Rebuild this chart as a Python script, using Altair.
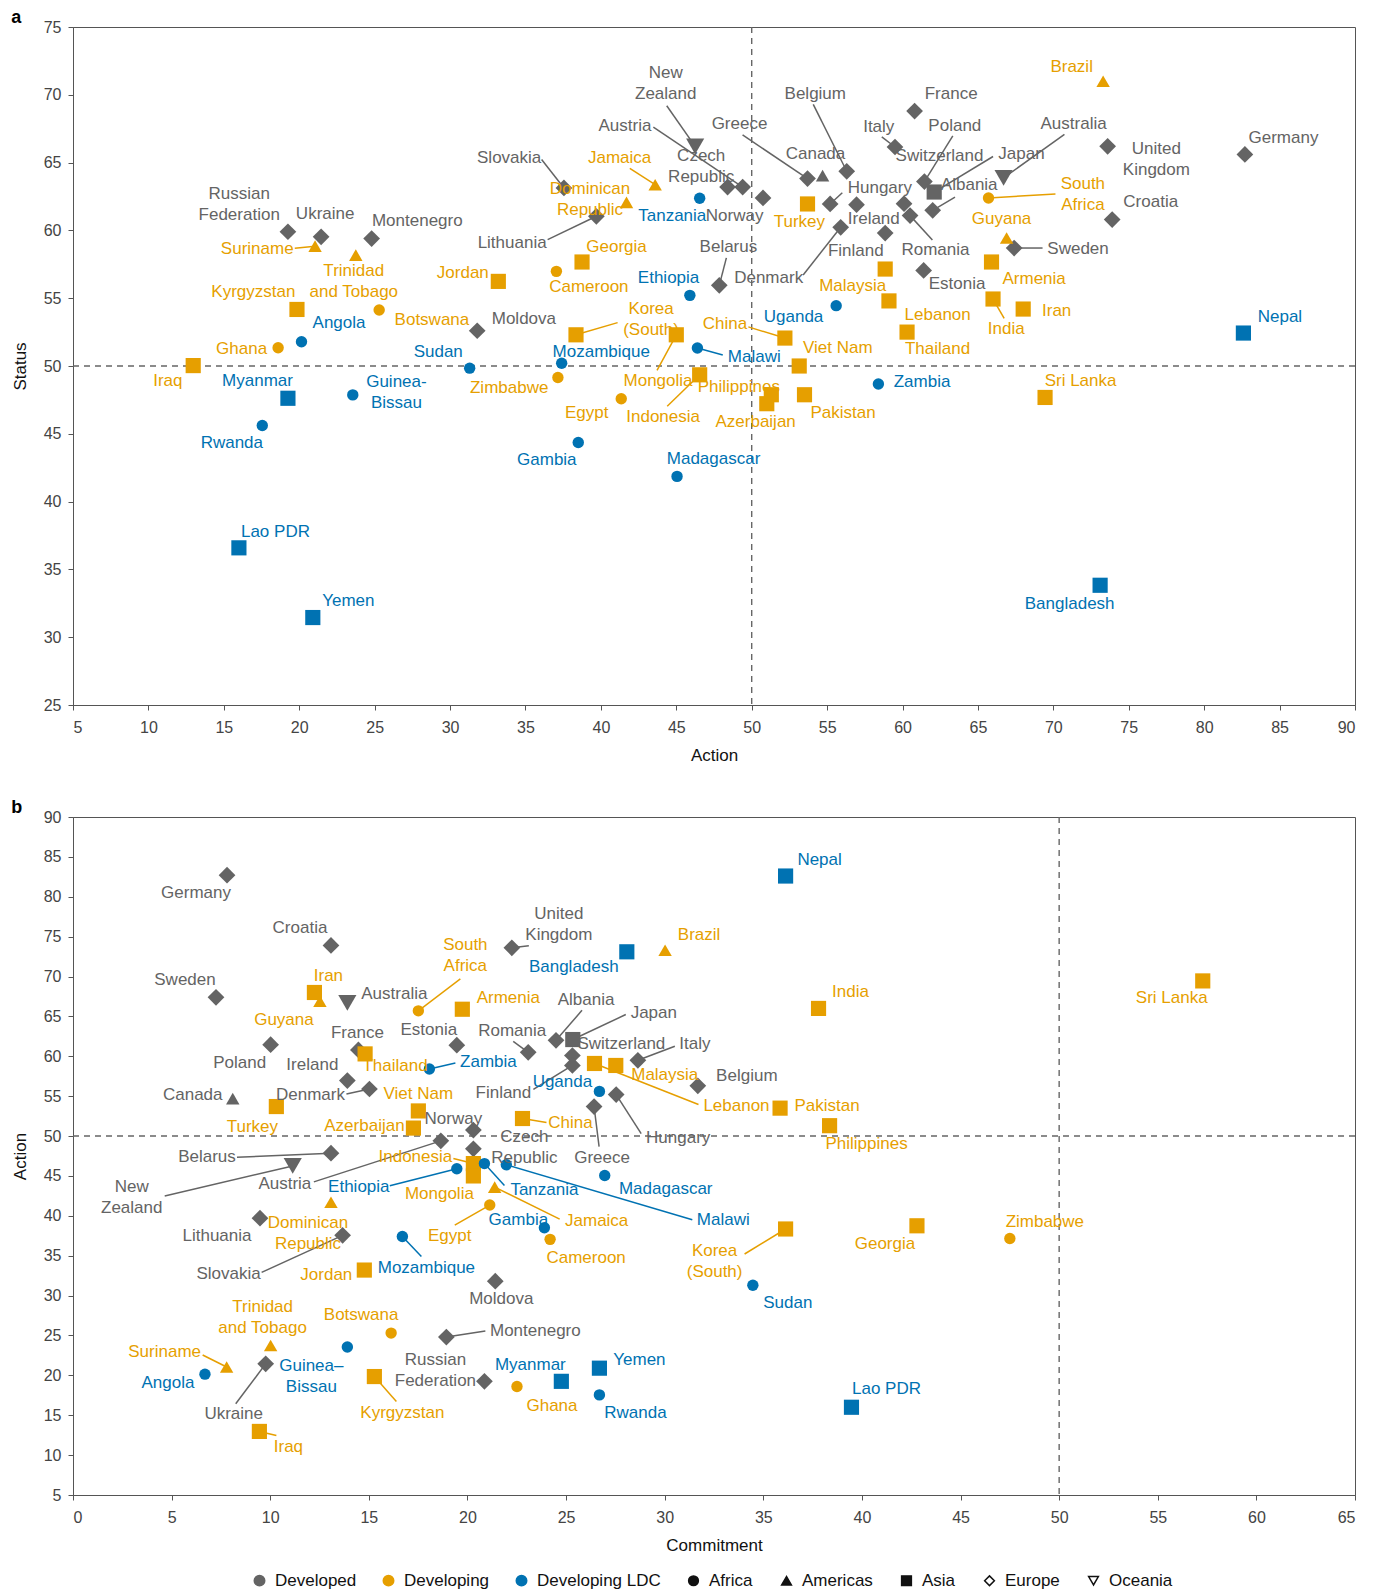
import altair as alt
import pandas as pd

FONT = "Liberation Sans"

countries = ["Germany", "United Kingdom", "Croatia", "Sweden", "France", "Italy", "Poland", "Switzerland",
             "Japan", "Albania", "Romania", "Estonia", "Australia", "Belgium", "Ireland", "Hungary", "Denmark",
             "Finland", "Canada", "Greece", "Norway", "Austria", "Czech Republic", "Belarus", "New Zealand",
             "Lithuania", "Slovakia", "Moldova", "Montenegro", "Ukraine", "Russian Federation",
             "Brazil", "Guyana", "South Africa", "Armenia", "India", "Iran", "Thailand", "Sri Lanka", "Malaysia",
             "Lebanon", "Turkey", "Pakistan", "Viet Nam", "China", "Philippines", "Azerbaijan", "Indonesia",
             "Mongolia", "Jamaica", "Dominican Republic", "Egypt", "Georgia", "Korea (South)", "Zimbabwe",
             "Cameroon", "Jordan", "Botswana", "Trinidad and Tobago", "Suriname", "Kyrgyzstan", "Ghana", "Iraq",
             "Nepal", "Bangladesh", "Zambia", "Uganda", "Tanzania", "Malawi", "Ethiopia", "Madagascar", "Gambia",
             "Mozambique", "Sudan", "Guinea-Bissau", "Yemen", "Angola", "Myanmar", "Rwanda", "Lao PDR"]

group = ["Developed"] * 31 + ["Developing"] * 32 + ["Developing LDC"] * 17

region = ["Europe", "Europe", "Europe", "Europe", "Europe", "Europe", "Europe", "Europe",
          "Asia", "Europe", "Europe", "Europe", "Oceania", "Europe", "Europe", "Europe", "Europe",
          "Europe", "Americas", "Europe", "Europe", "Europe", "Europe", "Europe", "Oceania",
          "Europe", "Europe", "Europe", "Europe", "Europe", "Europe",
          "Americas", "Americas", "Africa", "Asia", "Asia", "Asia", "Asia", "Asia", "Asia",
          "Asia", "Asia", "Asia", "Asia", "Asia", "Asia", "Asia", "Asia",
          "Asia", "Americas", "Americas", "Africa", "Asia", "Asia", "Africa",
          "Africa", "Asia", "Africa", "Americas", "Americas", "Asia", "Africa", "Asia",
          "Asia", "Asia", "Africa", "Africa", "Africa", "Africa", "Africa", "Africa", "Africa",
          "Africa", "Africa", "Africa", "Asia", "Africa", "Asia", "Africa", "Asia"]

commitment = [7.81, 22.25, 13.08, 7.25, 14.47, 28.64, 10.02, 25.32, 25.34, 24.49, 23.08, 19.46, 13.91, 31.68,
              13.91, 27.54, 15.03, 25.32, 8.10, 26.42, 20.30, 18.65, 20.30, 13.08, 11.14, 9.48, 13.67, 21.41,
              18.93, 9.77, 20.86,
              30.02, 12.52, 17.51, 19.74, 37.80, 12.24, 14.81, 57.28, 27.52, 26.44, 10.31, 35.85, 17.51, 22.79,
              38.36, 17.26, 20.30, 20.30, 21.38, 13.08, 21.13, 42.79, 36.13, 47.50, 24.19, 14.77, 16.13, 10.02,
              7.79, 15.28, 22.51, 9.45,
              36.13, 28.08, 18.07, 26.69, 20.86, 21.97, 19.46, 26.96, 23.90, 16.70, 34.47, 13.91, 26.69, 6.69,
              24.76, 26.69, 39.47]

action = [82.7, 73.6, 73.9, 67.4, 60.8, 59.5, 61.45, 60.1, 62.1, 62.0, 60.5, 61.4, 66.7, 56.3, 56.95, 55.2,
          55.9, 58.85, 54.7, 53.7, 50.75, 49.4, 48.4, 47.85, 46.25, 39.7, 37.55, 31.8, 24.8, 21.45, 19.25,
          73.3, 66.9, 65.7, 65.9, 66.0, 68.0, 60.3, 69.45, 58.85, 59.1, 53.7, 53.5, 53.15, 52.2, 51.3, 51.0,
          46.55, 45.0, 43.6, 41.7, 41.35, 38.75, 38.35, 37.15, 37.05, 33.2, 25.3, 23.75, 21.05, 19.85, 18.6,
          12.97,
          82.6, 73.1, 58.4, 55.6, 46.55, 46.4, 45.9, 45.05, 38.5, 37.4, 31.3, 23.55, 20.9, 20.15, 19.25, 17.55,
          16.0]

status = [65.6, 66.2, 60.8, 58.7, 68.8, 66.15, 63.6, 61.97, 62.83, 61.48, 61.09, 57.05, 63.87, 64.36, 61.9,
          61.95, 60.23, 59.8, 64.04, 63.82, 62.39, 63.2, 63.2, 55.95, 66.2, 61.04, 63.13, 52.6, 59.4, 59.53,
          59.9,
          71.0, 59.44, 62.39, 57.67, 54.94, 54.2, 52.5, 47.68, 57.15, 54.8, 61.95, 47.88, 50.0, 52.06, 47.88,
          47.22, 49.35, 52.3, 63.37, 62.07, 47.58, 57.67, 52.3, 49.15, 56.98, 56.24, 54.13, 58.18, 58.84,
          54.17, 51.35, 50.03,
          52.43, 33.83, 48.67, 54.45, 62.37, 51.33, 55.21, 41.86, 44.36, 50.2, 49.84, 47.87, 31.45, 51.79,
          47.62, 45.61, 36.59]

groups = ["Developed", "Developing", "Developing LDC"]
regions = ["Africa", "Americas", "Asia", "Europe", "Oceania"]
ticks_a_x = list(range(5, 95, 5))
ticks_a_y = list(range(25, 80, 5))
ticks_b_x = list(range(0, 70, 5))
ticks_b_y = list(range(5, 95, 5))

two_line = {"United Kingdom": "United\nKingdom", "New Zealand": "New\nZealand",
            "Czech Republic": "Czech\nRepublic", "Russian Federation": "Russian\nFederation",
            "South Africa": "South\nAfrica", "Dominican Republic": "Dominican\nRepublic",
            "Korea (South)": "Korea\n(South)", "Trinidad and Tobago": "Trinidad\nand Tobago"}
labels_a = dict(two_line, **{"Guinea-Bissau": "Guinea-\nBissau"})
labels_b = dict(two_line, **{"Guinea-Bissau": "Guinea\u2013\nBissau"})

# ---- label placement (pixel offsets of label centre, optional leader end) ----
off_a = {
    "Germany": (38, -16), "United Kingdom": (48, 13), "Croatia": (38, -17), "Sweden": (63, 1, 28, 0),
    "France": (36, -17), "Italy": (-16, -20, -13, -10), "Poland": (30, -55, 28, -45),
    "Switzerland": (35, -47), "Japan": (86, -37, 58, -35), "Albania": (36, -25, 22, -13),
    "Romania": (25, 34, 22, 24), "Estonia": (33, 13), "Australia": (69, -53, 60, -43),
    "Belgium": (-31, -76, -33, -66), "Ireland": (17, 14), "Hungary": (49, -16, 12, -11),
    "Denmark": (-71, 50, -37, 47), "Finland": (-29, 18), "Canada": (-7, -21),
    "Greece": (-67, -54, -64, -43), "Norway": (-28, 18), "Austria": (-116, -60, -88, -59),
    "Czech Republic": (-26, -20), "Belarus": (9, -38, 7, -27), "New Zealand": (-29, -62, -28, -40),
    "Lithuania": (-83, 26, -48, 23), "Slovakia": (-54, -30, -22, -28), "Moldova": (46, -12),
    "Montenegro": (45, -17), "Ukraine": (4, -22), "Russian Federation": (-48, -27),
    "Brazil": (-31, -14), "Guyana": (-5, -19), "South Africa": (93, -3, 66, -4), "Armenia": (42, 17),
    "India": (13, 30, 11, 19), "Iran": (33, 2), "Thailand": (30, 17), "Sri Lanka": (35, -16),
    "Malaysia": (-32, 17), "Lebanon": (48, 14), "Turkey": (-8, 18), "Pakistan": (38, 18),
    "Viet Nam": (38, -18), "China": (-59, -14, -36, -11), "Philippines": (-32, -8),
    "Azerbaijan": (-11, 18), "Indonesia": (-36, 42, -32, 31), "Mongolia": (-18, 46, -19, 35),
    "Jamaica": (-35, -26, -25, -16), "Dominican Republic": (-36, -3), "Egypt": (-34, 14),
    "Georgia": (34, -15), "Korea (South)": (74, -15, 41, -12), "Zimbabwe": (-48, 10),
    "Cameroon": (32, 15), "Jordan": (-35, -8), "Botswana": (52, 10), "Trinidad and Tobago": (-2, 26),
    "Suriname": (-57, 3, -20, 2), "Kyrgyzstan": (-43, -17), "Ghana": (-36, 1), "Iraq": (-25, 15),
    "Nepal": (36, -16), "Bangladesh": (-30, 18), "Zambia": (43, -2), "Uganda": (-42, 11),
    "Tanzania": (-27, 17), "Malawi": (56, 9, 25, 7), "Ethiopia": (-21, -17), "Madagascar": (36, -17),
    "Gambia": (-31, 17), "Mozambique": (39, -11), "Sudan": (-31, -16), "Guinea-Bissau": (43, -2),
    "Yemen": (35, -16), "Angola": (37, -18), "Myanmar": (-30, -17), "Rwanda": (-30, 17),
    "Lao PDR": (36, -16),
}
off_b = {
    "Germany": (-31, 18), "United Kingdom": (47, -23, 17, -2), "Croatia": (-31, -17), "Sweden": (-31, -17),
    "France": (-1, -17), "Italy": (57, -16, 37, -14), "Poland": (-31, 18), "Switzerland": (49, -11),
    "Japan": (81, -27, 53, -25), "Albania": (30, -40, 26, -30), "Romania": (-16, -21, -15, -11),
    "Estonia": (-28, -15), "Australia": (47, -9), "Belgium": (49, -10), "Ireland": (-35, -16),
    "Hungary": (62, 43, 25, 39), "Denmark": (-59, 6, -23, 5), "Finland": (-69, 28, -39, 24),
    "Canada": (-40, -4), "Greece": (8, 51, 5, 40), "Norway": (-20, -11), "Austria": (-156, 43, -127, 41),
    "Czech Republic": (51, -1), "Belarus": (-124, 4, -94, 4), "New Zealand": (-161, 32, -128, 30),
    "Lithuania": (-43, 18), "Slovakia": (-114, 39, -81, 37), "Moldova": (6, 18),
    "Montenegro": (89, -6, 39, -6), "Ukraine": (-32, 50, -30, 40), "Russian Federation": (-49, -11),
    "Brazil": (34, -15), "Guyana": (-36, 19), "South Africa": (47, -55, 42, -32), "Armenia": (46, -11),
    "India": (32, -16), "Iran": (14, -16), "Thailand": (30, 12), "Sri Lanka": (-31, 17),
    "Malaysia": (49, 10), "Lebanon": (142, 43, 104, 41), "Turkey": (-24, 20), "Pakistan": (47, -2),
    "Viet Nam": (0, -17), "China": (48, 4, 24, 4), "Philippines": (37, 18), "Azerbaijan": (-49, -2),
    "Indonesia": (-58, -7, -20, -5), "Mongolia": (-34, 18), "Jamaica": (102, 34, 65, 32),
    "Dominican Republic": (-23, 31), "Egypt": (-40, 31, -35, 20), "Georgia": (-32, 18),
    "Korea (South)": (-71, 33, -41, 25), "Zimbabwe": (35, -17), "Cameroon": (36, 19), "Jordan": (-38, 5),
    "Botswana": (-30, -18), "Trinidad and Tobago": (-8, -28), "Suriname": (-62, -15, -24, -12),
    "Kyrgyzstan": (28, 36, 22, 25), "Ghana": (35, 19), "Iraq": (29, 16, 17, 4),
    "Nepal": (34, -16), "Bangladesh": (-53, 15), "Zambia": (59, -7, 26, -6), "Uganda": (-37, -9),
    "Tanzania": (60, 26, 20, 22), "Malawi": (217, 55, 186, 55), "Ethiopia": (-98, 18, -67, 17),
    "Madagascar": (61, 13), "Gambia": (-26, -8), "Mozambique": (24, 31, 19, 20), "Sudan": (35, 18),
    "Guinea-Bissau": (-36, 29), "Yemen": (40, -8), "Angola": (-37, 9), "Myanmar": (-31, -16),
    "Rwanda": (36, 18), "Lao PDR": (35, -18),
}

W, H = 1282, 678
LINE_H = 21
C_GREY, C_ORANGE, C_BLUE = "#646464", "#E69F00", "#0072B2"
cscale = alt.Scale(domain=groups, range=[C_GREY, C_ORANGE, C_BLUE])
sscale = alt.Scale(domain=regions, range=["circle", "triangle-up", "square", "diamond", "triangle-down"])
# marker-size scale keyed on lower-case region codes (a domain distinct from the shape scale)
size_keys = [r.lower() for r in regions]
zscale = alt.Scale(domain=size_keys, range=[130, 330, 120, 230, 520])

LEG_Y = 1545
color_legend = alt.Legend(
    title=None, orient="none", legendX=178, legendY=LEG_Y, direction="horizontal",
    symbolType="circle", symbolSize=110, labelFontSize=17, labelFont=FONT, labelColor="#111",
    columnPadding=23, labelOffset=7, padding=0)
shape_legend = alt.Legend(
    title=None, orient="none", legendX=612, legendY=LEG_Y, direction="horizontal",
    symbolSize=95, symbolStrokeColor="#111", symbolStrokeWidth=1.5,
    symbolFillColor=alt.ExprRef(expr="datum.value === 'Europe' || datum.value === 'Oceania' ? '#ffffff' : '#111111'"),
    labelFontSize=17, labelFont=FONT, labelColor="#111", columnPadding=25, labelOffset=7, padding=0)


def build(xv, yv, xdom, ydom, offs, k, labels):
    ppx = W / (xdom[1] - xdom[0])
    ppy = H / (ydom[1] - ydom[0])
    pts, leads = [], []
    for i, name in enumerate(countries):
        o = offs[name]
        x, y = xv[i], yv[i]
        lab = labels.get(name, name)
        shift = LINE_H / 2 if "\n" in lab else 0
        pts.append({"name": name, "group": group[i], "region": region[i], "marker_size": region[i].lower(),
                    "x": x, "y": y,
                    "lx": x + o[0] * k / ppx, "ly": y - (o[1] * k - shift) / ppy, "label": lab})
        if len(o) == 4:
            leads.append({"group": group[i], "x": x, "y": y,
                          "x2": x + o[2] * k / ppx, "y2": y - o[3] * k / ppy})
    return pd.DataFrame(pts), pd.DataFrame(leads)


def axis(vals, title, pad, tpad):
    return alt.Axis(values=vals, title=title, grid=False, tickSize=5, tickColor="#555", domainColor="#555",
                    labelFontSize=16, labelColor="#444", labelFont=FONT, titleFont=FONT, titleFontSize=17,
                    titleColor="#111", titleFontWeight="normal", labelPadding=pad, titlePadding=tpad)


def panel(xv, yv, xdom, ydom, xt, yt, xtitle, ytitle, offs, k, labels, tag):
    pts, leads = build(xv, yv, xdom, ydom, offs, k, labels)
    xs = alt.Scale(domain=xdom, nice=False, zero=False)
    ys = alt.Scale(domain=ydom, nice=False, zero=False)
    xa = axis(xt, xtitle, 9, 12)
    ya = axis(yt, ytitle, 7, 14)

    def X(f):
        return alt.X(f, type="quantitative", scale=xs, axis=xa, title=xtitle)

    def Y(f):
        return alt.Y(f, type="quantitative", scale=ys, axis=ya, title=ytitle)

    def C():
        return alt.Color("group:N", scale=cscale, legend=color_legend)

    ref = pd.DataFrame({"v": [50]})
    vrule = alt.Chart(ref).mark_rule(color="#666", strokeDash=[6, 5], strokeWidth=1.4).encode(x=X("v"))
    hrule = alt.Chart(ref).mark_rule(color="#666", strokeDash=[6, 5], strokeWidth=1.4).encode(y=Y("v"))
    lead = alt.Chart(leads).mark_rule(strokeWidth=1.5).encode(
        x=X("x"), y=Y("y"), x2="x2", y2="y2", color=C())
    points = alt.Chart(pts).mark_point(filled=True, opacity=1).encode(
        x=X("x"), y=Y("y"), color=C(),
        shape=alt.Shape("region:N", scale=sscale, legend=shape_legend),
        size=alt.Size("marker_size:N", scale=zscale, legend=None))
    texts = alt.Chart(pts).mark_text(font=FONT, fontSize=17, align="center", baseline="middle",
                                     lineBreak="\n", lineHeight=LINE_H).encode(
        x=X("lx"), y=Y("ly"), text="label:N", color=C())
    return alt.layer(vrule, hrule, lead, points, texts).properties(
        width=W, height=H,
        title=alt.TitleParams(tag, anchor="start", frame="bounds", fontSize=18, fontWeight="bold",
                              font=FONT, color="#000", offset=-8))


pa = panel(action, status, [5, 90], [25, 75], ticks_a_x, ticks_a_y, "Action", "Status",
           off_a, 1.0147, labels_a, "a")
pb = panel(commitment, action, [0, 65], [5, 90], ticks_b_x, ticks_b_y, "Commitment", "Action",
           off_b, 1.0, labels_b, "b")

chart = alt.vconcat(pa, pb, spacing=34).resolve_scale(
    x="independent", y="independent", color="shared", shape="shared", size="shared"
).properties(padding={"left": 2, "top": 0, "right": 5, "bottom": 0}).configure_view(
    stroke="#555", strokeWidth=1)

chart.save("out.html", embed_options={"renderer": "svg", "actions": False})
